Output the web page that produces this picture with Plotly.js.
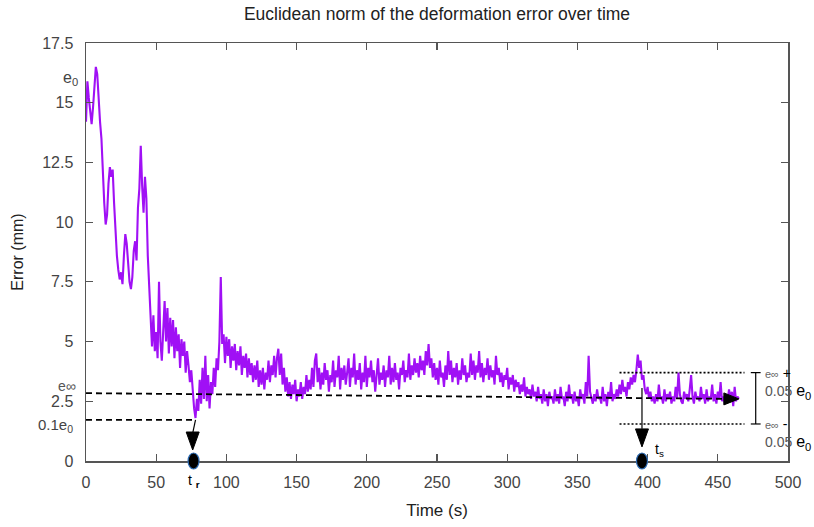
<!DOCTYPE html>
<html>
<head>
<meta charset="utf-8">
<script src="https://cdn.plot.ly/plotly-3.0.1.min.js"></script>
<style>html,body{margin:0;padding:0;background:#fff;}#chart{width:814px;height:527px;}</style>
</head>
<body>
<div id="chart"></div>
<script>
// Time axis starts at 0 s, one sample per second
const timeStart = 0;
const timeStep = 1;
// Error (mm), t = 0 .. 465 s
const errorMm = [
14.2,15.9,15.2,14.6,14.1,14.8,15.6,16.5,16.2,14.9,
14.2,13.5,12.0,10.8,9.9,10.3,11.6,12.3,11.9,12.2,
10.8,9.5,8.6,8.0,7.6,7.9,7.4,8.6,9.5,9.1,
8.2,7.5,7.2,7.7,8.8,9.2,8.4,10.6,11.4,13.2,
11.5,10.4,11.9,11.0,8.6,7.2,5.9,4.8,6.1,4.6,
5.4,4.3,7.5,5.0,4.2,5.2,6.7,5.0,6.4,4.5,
6.0,4.8,5.9,4.3,5.6,4.6,5.3,3.9,5.1,4.4,
5.0,3.7,4.6,4.0,3.3,3.8,2.9,2.2,1.8,2.6,
2.1,3.4,2.4,3.9,2.6,4.4,2.5,3.6,2.2,3.3,
2.8,3.9,3.1,4.3,3.8,5.0,7.7,4.9,5.3,4.1,
5.2,4.4,5.1,3.9,4.8,4.2,4.9,3.8,4.6,4.0,
4.8,3.6,4.4,3.9,4.5,3.5,4.3,3.6,4.1,3.3,
4.0,3.4,4.2,3.1,3.8,3.2,3.9,3.0,3.7,3.4,
4.2,3.3,4.0,3.6,4.4,3.5,4.3,4.7,3.6,4.5,
3.2,3.9,2.9,3.5,2.7,3.3,2.6,3.2,2.8,3.4,
2.5,3.0,2.7,3.3,2.6,3.1,2.8,3.6,2.9,3.4,
3.0,3.9,3.1,4.2,4.5,3.3,3.9,3.0,3.7,3.2,
4.1,3.4,3.8,2.9,3.6,3.3,4.2,3.1,3.8,3.5,
4.4,3.0,3.9,3.4,4.0,3.2,3.7,4.3,3.1,3.9,
3.5,4.5,3.2,3.8,3.4,4.1,3.0,3.7,3.3,4.4,
3.1,3.9,3.5,4.2,3.3,3.8,2.9,3.6,4.3,3.2,
3.7,3.4,4.0,3.1,3.8,3.5,4.4,3.2,3.9,3.3,
4.1,3.4,3.7,3.0,3.9,3.6,4.2,3.3,3.8,3.5,
4.5,3.4,4.0,3.6,4.3,3.7,4.1,3.5,4.4,3.8,
4.2,3.6,4.6,4.0,4.9,3.9,4.3,3.5,4.1,3.4,
3.9,3.2,4.2,3.5,3.7,3.1,4.0,3.4,4.6,3.6,
4.2,3.3,3.9,3.5,4.1,3.2,3.8,3.4,4.3,3.6,
4.0,3.3,3.7,3.5,4.5,3.6,4.2,3.4,4.0,3.7,
4.6,3.5,4.1,3.3,3.9,3.6,4.3,3.4,4.0,3.5,
3.8,3.2,4.4,3.6,3.9,3.3,3.7,3.1,3.6,3.4,
3.9,3.0,3.5,3.2,3.6,2.9,3.4,3.1,3.3,2.8,
3.2,2.9,3.5,2.7,3.1,2.8,3.0,2.6,3.2,2.7,
2.9,2.5,3.1,2.6,2.8,2.4,3.0,2.5,2.8,2.3,
2.9,2.6,2.7,2.4,3.0,2.5,2.8,2.4,3.1,2.6,
2.7,2.3,2.9,2.5,3.2,2.6,2.8,2.4,2.9,2.5,
2.7,2.3,3.0,2.6,2.8,2.4,3.3,2.7,4.4,2.9,
2.6,2.4,2.8,2.5,3.0,2.6,2.7,2.4,3.1,2.5,
2.8,2.3,2.9,2.6,3.3,2.5,2.8,2.6,3.0,2.7,
3.2,2.8,3.4,2.9,3.1,2.7,3.3,3.0,3.5,3.2,
3.6,3.3,3.8,4.45,3.9,4.2,3.4,3.6,3.0,2.8,
3.1,2.6,2.9,2.5,2.7,2.4,2.8,2.5,3.2,2.6,
2.7,2.4,3.0,2.5,2.8,2.6,2.9,2.4,2.7,2.5,
3.1,2.6,3.7,2.8,2.5,2.4,2.9,2.6,2.8,2.5,
3.0,3.6,2.7,2.4,2.9,2.6,2.7,2.5,3.1,2.6,
2.8,2.4,3.0,2.5,2.7,2.6,3.2,2.5,2.8,2.4,
2.9,2.6,3.3,2.5,2.7,2.4,2.8,2.5,3.0,2.6,
2.9,2.3,3.1,2.5,2.7,2.6
];
// Axis ticks
const xTicks = [0,50,100,150,200,250,300,350,400,450,500];
const yTicks = [0,2.5,5,7.5,10,12.5,15,17.5];
const yTickText = ["0","2.5","5","7.5","10","12.5","15","17.5"];
// Reference levels (mm) and times (s)
const eInfStart = 2.84, eInfEnd = 2.6;      // dashed e∞ line, t = 0 -> 465
const eInfLineEnd = 465;
const tenthE0 = 1.72;                       // 0.1 e0 dashed line
const tR = 76;                              // settling start
const tRLineEnd = 78;
const tS = 396;                             // settled time
const bandUpper = 3.7, bandLower = 1.55;    // e∞ ± 0.05 e0
const bandStart = 380, bandEnd = 469;
const bracketT = 477;

const ink = '#000';
const grey = '#444';
const FONT = 'Liberation Sans, Arial, sans-serif';

const trace = {
  type: 'scatter', mode: 'lines',
  x0: timeStart, dx: timeStep, y: errorMm,
  line: {color: '#a010f5', width: 2.1},
  hoverinfo: 'skip', showlegend: false
};

function tri(xAnchor, yAnchor) {
  return {type: 'path', xref: 'x', yref: 'y', xsizemode: 'pixel', ysizemode: 'pixel',
    xanchor: xAnchor, yanchor: yAnchor, path: 'M-6.5,18 L6.5,18 L0,0 Z',
    fillcolor: ink, line: {color: ink, width: 1}, layer: 'above'};
}
function ell(xAnchor) {
  return {type: 'circle', xref: 'x', yref: 'paper', xsizemode: 'pixel', ysizemode: 'pixel',
    xanchor: xAnchor, yanchor: 0, x0: -5.5, x1: 5.5, y0: -8, y1: 8,
    fillcolor: '#000', line: {color: '#2f6db5', width: 1.2}, layer: 'above'};
}

const shapes = [
  {type: 'line', xref: 'x', yref: 'y', x0: 0, y0: eInfStart, x1: eInfLineEnd - 4, y1: eInfEnd,
   line: {color: ink, width: 1.8, dash: '6px,4px'}},
  {type: 'path', xref: 'x', yref: 'y', xsizemode: 'pixel', ysizemode: 'pixel',
   xanchor: eInfLineEnd, yanchor: eInfEnd, path: 'M0,0 L-15,6 L-15,-6 Z',
   fillcolor: ink, line: {color: ink, width: 1}},
  {type: 'line', xref: 'x', yref: 'y', x0: 0, y0: tenthE0, x1: tRLineEnd, y1: tenthE0,
   line: {color: ink, width: 1.8, dash: '6px,4px'}},
  {type: 'line', xref: 'x', yref: 'y', x0: tRLineEnd, y0: tenthE0, x1: tR, y1: 1.17,
   line: {color: ink, width: 1.2}},
  tri(tR, 0.46),
  ell(tR + 0.6),
  {type: 'line', xref: 'x', yref: 'y', x0: bandStart, y0: bandUpper, x1: bandEnd, y1: bandUpper,
   line: {color: ink, width: 1.6, dash: '2px,2px'}},
  {type: 'line', xref: 'x', yref: 'y', x0: bandStart, y0: bandLower, x1: bandEnd, y1: bandLower,
   line: {color: ink, width: 1.6, dash: '2px,2px'}},
  {type: 'line', xref: 'x', yref: 'y', x0: bracketT, y0: bandLower, x1: bracketT, y1: bandUpper,
   line: {color: ink, width: 1.2}},
  {type: 'line', xref: 'x', yref: 'y', x0: bracketT - 3.5, y0: bandUpper, x1: bracketT + 3.5, y1: bandUpper,
   line: {color: ink, width: 1.2}},
  {type: 'line', xref: 'x', yref: 'y', x0: bracketT - 3.5, y0: bandLower, x1: bracketT + 3.5, y1: bandLower,
   line: {color: ink, width: 1.2}},
  {type: 'line', xref: 'x', yref: 'y', x0: tS, y0: 3.06, x1: tS, y1: 1.35,
   line: {color: ink, width: 1.2}},
  tri(tS, 0.59),
  ell(tS)
];

const annotations = [
  {xref: 'paper', yref: 'y', x: -0.009, y: 16.0, xanchor: 'right', yanchor: 'middle', showarrow: false,
   text: 'e<sub>0</sub>', font: {family: FONT, size: 16, color: grey}},
  {xref: 'paper', yref: 'y', x: -0.012, y: 3.15, xanchor: 'right', yanchor: 'middle', showarrow: false,
   text: 'e∞', font: {family: FONT, size: 14, color: '#555'}},
  {xref: 'paper', yref: 'y', x: -0.016, y: 1.5, xanchor: 'right', yanchor: 'middle', showarrow: false,
   text: '0.1e<sub>0</sub>', font: {family: FONT, size: 15, color: grey}},
  {xref: 'x', yref: 'paper', x: tR + 0.8, y: -0.021, xanchor: 'center', yanchor: 'top', showarrow: false,
   text: 't <sub><b>r</b></sub>', font: {family: FONT, size: 14, color: ink}},
  {xref: 'x', yref: 'y', x: tS + 8, y: 0.45, xanchor: 'left', yanchor: 'middle', showarrow: false,
   text: 't<sub>s</sub>', font: {family: FONT, size: 14, color: ink}},
  {xref: 'x', yref: 'y', x: 482.5, y: 3.7, xanchor: 'left', yanchor: 'top', showarrow: false, align: 'left',
   yshift: 10,
   text: '<span style="font-size:11px;color:#666">e∞</span> +<br><span style="color:#555">0.05</span> <span style="font-size:16px">e<sub>0</sub></span>',
   font: {family: FONT, size: 14, color: ink}},
  {xref: 'x', yref: 'y', x: 482.5, y: 1.55, xanchor: 'left', yanchor: 'top', showarrow: false, align: 'left',
   yshift: 10,
   text: '<span style="font-size:11px;color:#666">e∞</span> -<br><span style="color:#555">0.05</span> <span style="font-size:16px">e<sub>0</sub></span>',
   font: {family: FONT, size: 14, color: ink}}
];

const axisCommon = {
  ticks: 'inside', ticklen: 7, tickwidth: 1.2, tickcolor: '#555', mirror: 'allticks',
  showline: true, linecolor: '#555', linewidth: 1.5, showgrid: false, zeroline: false,
  tickfont: {family: FONT, size: 16, color: grey}
};

const layout = {
  width: 814, height: 527,
  margin: {l: 86, r: 26, t: 43, b: 66},
  paper_bgcolor: '#fff', plot_bgcolor: '#fff',
  font: {family: FONT, color: grey},
  title: {text: 'Euclidean norm of the deformation error over time', xref: 'paper', x: 0.5, xanchor: 'center',
          y: 0.973, yanchor: 'middle', yref: 'container', font: {family: FONT, size: 17.5, color: '#222'}},
  xaxis: Object.assign({}, axisCommon, {range: [0, 500], tickvals: xTicks, ticklabelstandoff: 6,
    title: {text: 'Time (s)', standoff: 14, font: {family: FONT, size: 17, color: '#222'}}}),
  yaxis: Object.assign({}, axisCommon, {range: [0, 17.5], tickvals: yTicks, ticktext: yTickText,
    ticklabelstandoff: 8,
    title: {text: 'Error (mm)', standoff: 14, font: {family: FONT, size: 16, color: '#222'}}}),
  shapes: shapes,
  annotations: annotations,
  showlegend: false
};

Plotly.newPlot('chart', [trace], layout, {staticPlot: true, displayModeBar: false});
</script>
</body>
</html>
